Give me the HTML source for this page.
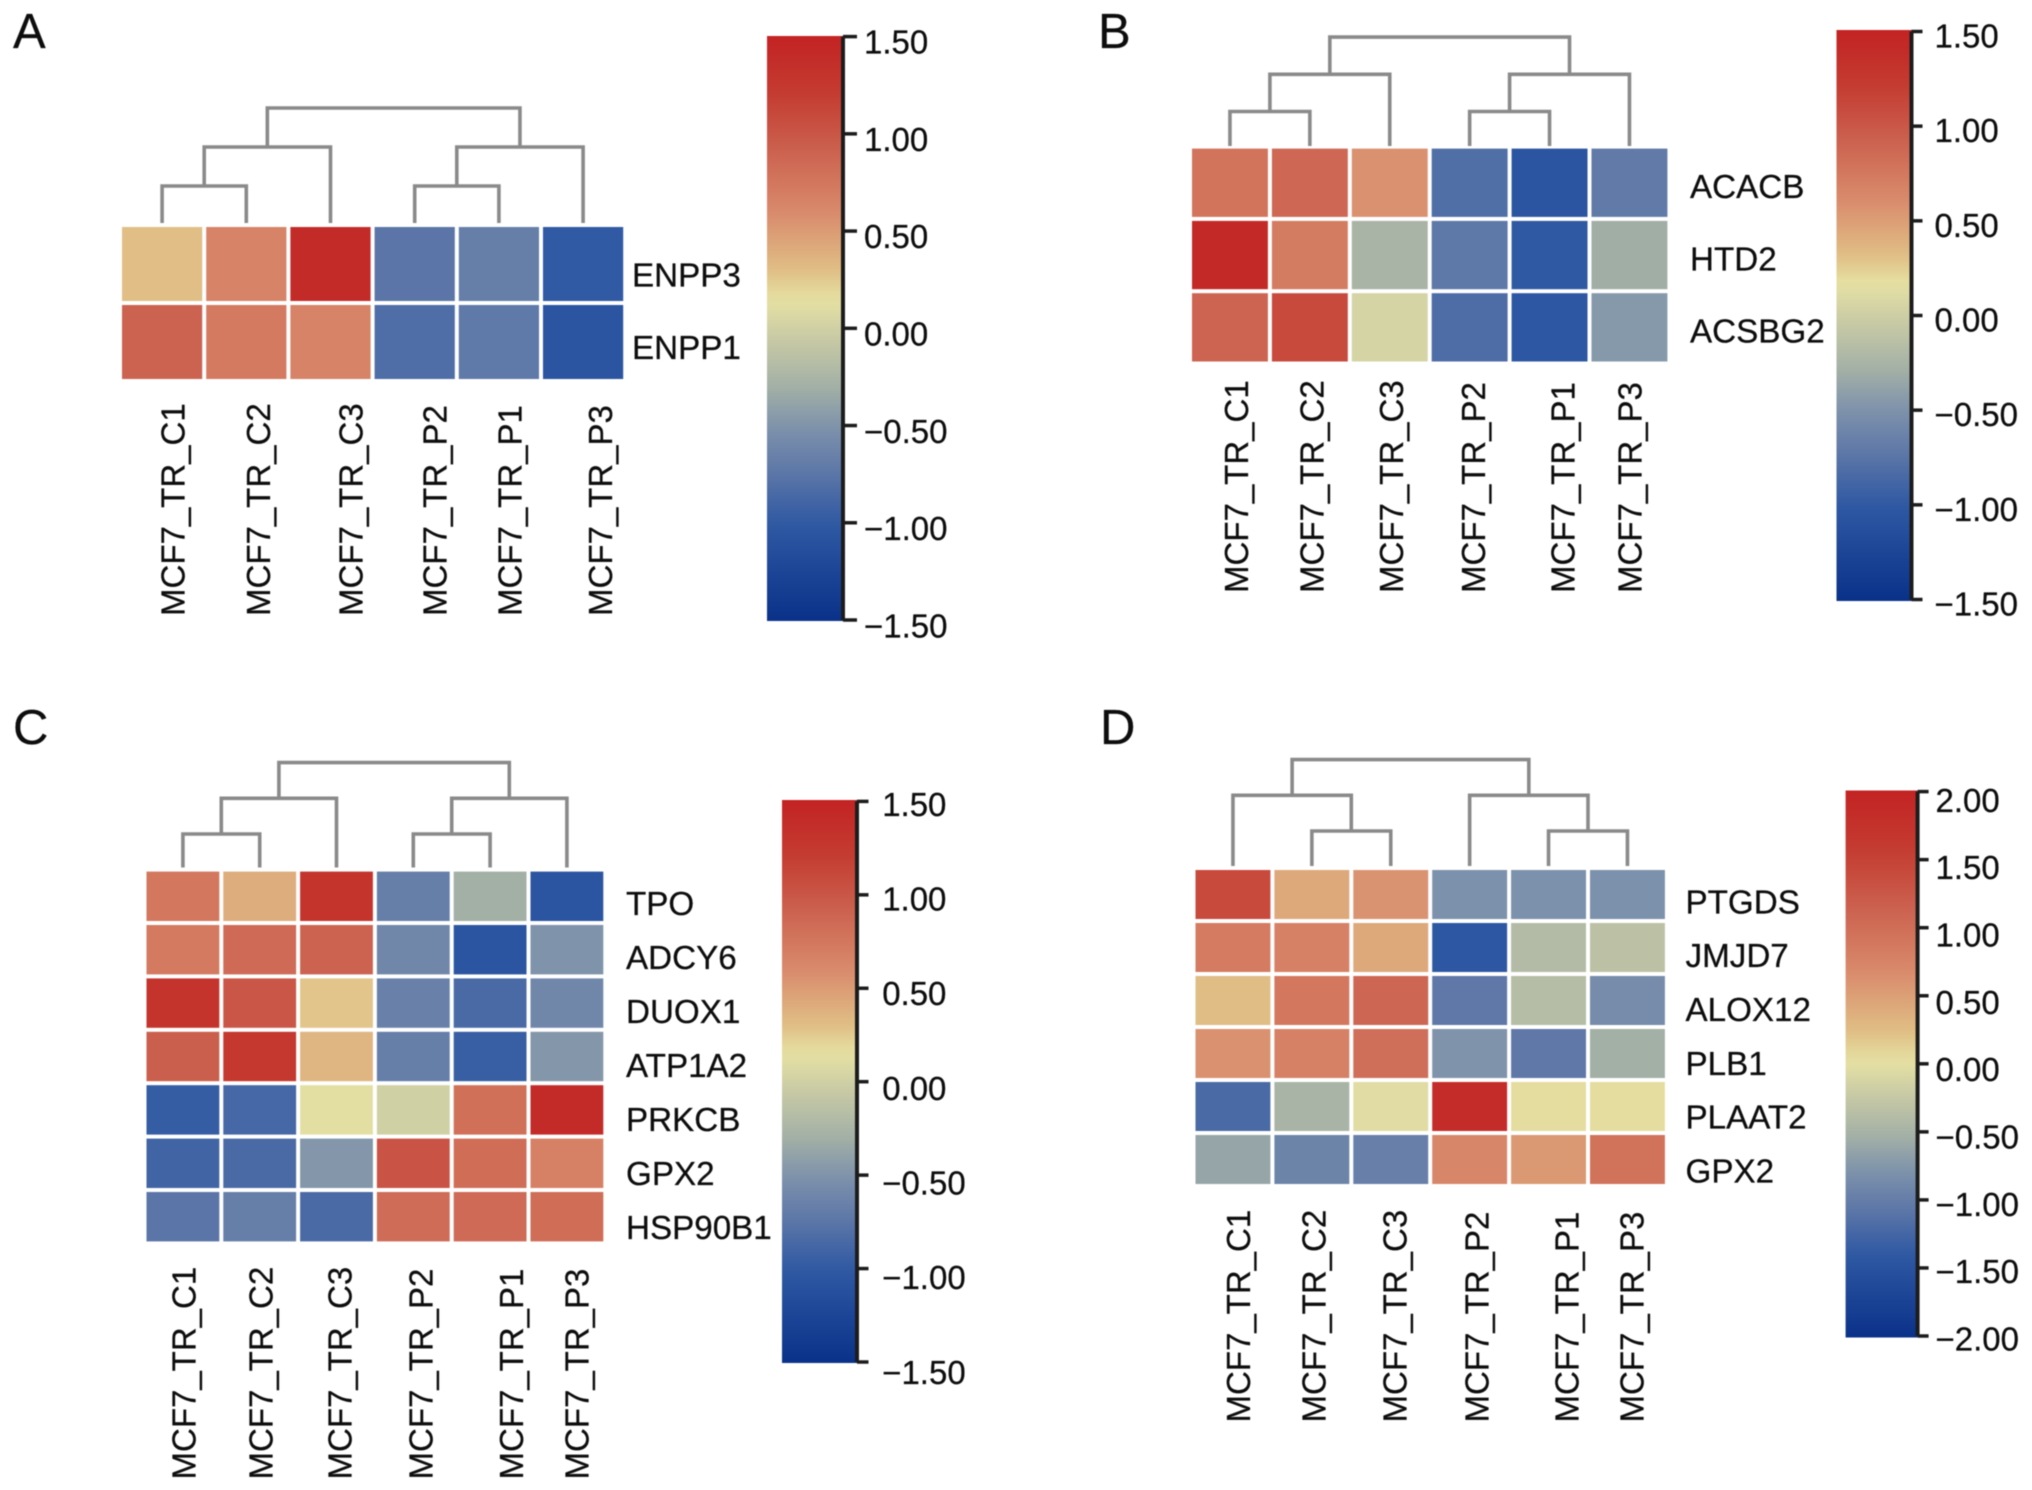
<!DOCTYPE html>
<html lang="en">
<head>
<meta charset="utf-8">
<title>Clustered gene expression heatmaps</title>
<style>
html,body{margin:0;padding:0;background:#fff;}
svg{display:block;filter:blur(0.6px);}
text{font-family:"Liberation Sans",Arial,sans-serif;fill:#0d0d0d;stroke:#0d0d0d;stroke-width:0.25px;}
</style>
</head>
<body>
<svg id="figure" xmlns="http://www.w3.org/2000/svg" width="2032" height="1490" viewBox="0 0 2032 1490">
<rect width="2032" height="1490" fill="#ffffff"/>
</svg>
<script>
// ---------- Data ----------
const samplesA = ["MCF7_TR_C1","MCF7_TR_C2","MCF7_TR_C3","MCF7_TR_P2","MCF7_TR_P1","MCF7_TR_P3"];
const genesA = ["ENPP3","ENPP1"];
const valuesA = [
  [0.30,0.65,1.40,-0.75,-0.67,-1.00],
  [0.90,0.72,0.65,-0.82,-0.72,-1.05]
];
const ticksA = [1.5,1,0.5,0,-0.5,-1,-1.5];
const mergesA = [[0,1,1],[6,2,2],[3,4,1],[8,5,2],[7,9,3]];

const samplesB = ["MCF7_TR_C1","MCF7_TR_C2","MCF7_TR_C3","MCF7_TR_P2","MCF7_TR_P1","MCF7_TR_P3"];
const genesB = ["ACACB","HTD2","ACSBG2"];
const valuesB = [
  [0.78,0.87,0.57,-0.80,-1.05,-0.70],
  [1.42,0.72,-0.25,-0.72,-1.00,-0.30],
  [0.90,1.10,0.05,-0.82,-1.02,-0.45]
];
const ticksB = [1.5,1,0.5,0,-0.5,-1,-1.5];
const mergesB = [[0,1,1],[6,2,2],[3,4,1],[8,5,2],[7,9,3]];

const samplesC = ["MCF7_TR_C1","MCF7_TR_C2","MCF7_TR_C3","MCF7_TR_P2","MCF7_TR_P1","MCF7_TR_P3"];
const genesC = ["TPO","ADCY6","DUOX1","ATP1A2","PRKCB","GPX2","HSP90B1"];
const valuesC = [
  [0.75,0.40,1.30,-0.67,-0.30,-1.05],
  [0.72,0.85,0.90,-0.60,-1.05,-0.50],
  [1.30,1.00,0.27,-0.65,-0.85,-0.60],
  [0.93,1.25,0.35,-0.67,-0.95,-0.47],
  [-0.97,-0.87,0.13,0.00,0.80,1.40],
  [-0.90,-0.85,-0.48,1.02,0.82,0.67],
  [-0.75,-0.67,-0.85,0.83,0.85,0.82]
];
const ticksC = [1.5,1,0.5,0,-0.5,-1,-1.5];
const mergesC = [[0,1,1],[6,2,2],[3,4,1],[8,5,2],[7,9,3]];

const samplesD = ["MCF7_TR_C1","MCF7_TR_C2","MCF7_TR_C3","MCF7_TR_P2","MCF7_TR_P1","MCF7_TR_P3"];
const genesD = ["PTGDS","JMJD7","ALOX12","PLB1","PLAAT2","GPX2"];
const valuesD = [
  [1.40,0.42,0.60,-0.80,-0.80,-0.80],
  [0.85,0.78,0.42,-1.42,-0.40,-0.33],
  [0.25,0.90,1.08,-1.05,-0.38,-0.85],
  [0.62,0.78,0.98,-0.78,-1.05,-0.53],
  [-1.20,-0.48,-0.03,1.85,0.05,0.05],
  [-0.62,-0.93,-0.97,0.72,0.55,0.95]
];
const ticksD = [2,1.5,1,0.5,0,-0.5,-1,-1.5,-2];
const mergesD = [[1,2,1],[0,6,2],[4,5,1],[3,8,2],[7,9,3]];

// ---------- Colormap ----------
const lowerStops = [[0,"#0a3189"],[0.30,"#2f59a3"],[0.455,"#5b75a8"],[0.606,"#7f93ab"],[0.727,"#a3b0a6"],[0.91,"#d0d0a5"],[1,"#e6e1a3"]];
const upperStops = [[0,"#e6e1a3"],[0.111,"#e0be85"],[0.333,"#d98a6c"],[0.556,"#cc6350"],[0.778,"#c43c32"],[1,"#c32323"]];

function hexToRgb(h){return [1,3,5].map(i=>parseInt(h.substr(i,2),16));}
function sampleStops(stops,t){
  t=Math.max(0,Math.min(1,t));
  for(let i=1;i<stops.length;i++){
    if(t<=stops[i][0]){
      const a=stops[i-1],b=stops[i],u=(t-a[0])/(b[0]-a[0]);
      const ca=hexToRgb(a[1]),cb=hexToRgb(b[1]);
      return "rgb("+ca.map((c,k)=>Math.round(c+(cb[k]-c)*u)).join(",")+")";
    }
  }
  return stops[stops.length-1][1];
}
function colorAt(f,mid){
  return f<mid?sampleStops(lowerStops,f/mid):sampleStops(upperStops,(f-mid)/(1-mid));
}

// ---------- Drawing ----------
const NS="http://www.w3.org/2000/svg";
const svg=document.getElementById("figure");
const ROW_FONT=33.2, COL_FONT=33, TICK_FONT=33;
function el(parent,tag,attrs){
  const n=document.createElementNS(NS,tag);
  for(const k in attrs)n.setAttribute(k,attrs[k]);
  parent.appendChild(n);
  return n;
}
function fmtTick(v){return (v<0?"\u2212":"")+Math.abs(v).toFixed(2);}

function drawPanel(p){
  const g=el(svg,"g",{});
  
  

  const letter=el(g,"text",{x:p.letterX,y:p.letterY,"font-size":49});
  
  
  letter.textContent=p.letter;

  // axis functions
  const cellW=p.colPitch-p.gap, cellH=p.rowPitch-p.gap;
  const colX=i=>p.left+i*p.colPitch;
  const colMid=i=>colX(i)+cellW/2;
  const rowY=i=>p.top+i*p.rowPitch;
  const levelY=h=>h===0?p.leafY:p.level1Y-(h-1)*p.levelStep;
  const scaleF=v=>(v+p.range)/(2*p.range);

  // heatmap cells
  const heat=el(g,"g",{});
  
  
  p.values.forEach((row,r)=>row.forEach((v,c)=>{
    const cell=el(heat,"rect",{x:colX(c),y:rowY(r),width:cellW,height:cellH,fill:colorAt(scaleF(v),p.mid)});
    
    
  }));

  // row labels
  p.genes.forEach((name,r)=>{
    const t=el(g,"text",{x:p.rowLabelX,y:rowY(r)+cellH/2+p.rowLabelShift+r*p.rowLabelDrift+ROW_FONT*0.358,"font-size":ROW_FONT});
    
    
    t.textContent=name;
  });

  // column labels
  p.samples.forEach((name,c)=>{
    const cx=colMid(c)+p.colLabelNudge[c]+COL_FONT*0.358;
    const t=el(g,"text",{x:cx,y:p.colLabelBase,"font-size":COL_FONT,transform:"rotate(-90 "+cx+" "+p.colLabelBase+")"});
    
    
    t.textContent=name;
  });

  // dendrogram
  const dendro=el(g,"g",{fill:"none",stroke:"#8a8a8a","stroke-width":3.6});
  
  
  const nodes=p.samples.map((_,i)=>({x:colMid(i),h:0}));
  p.merges.forEach(m=>{
    const a=nodes[m[0]],b=nodes[m[1]],y=levelY(m[2]);
    const link=el(dendro,"path",{d:"M"+a.x+" "+levelY(a.h)+"V"+y+"H"+b.x+"V"+levelY(b.h)});
    
    
    nodes.push({x:(a.x+b.x)/2,h:m[2]});
  });

  // colorbar
  const gradId="grad"+p.letter;
  const defs=el(g,"defs",{});
  const grad=el(defs,"linearGradient",{id:gradId,x1:0,y1:1,x2:0,y2:0});
  for(let i=0;i<=50;i++){
    el(grad,"stop",{offset:i/50,"stop-color":colorAt(i/50,p.mid)});
  }
  const bar=el(g,"rect",{x:p.barX,y:p.barTop,width:p.barW,height:p.barBottom-p.barTop,fill:"url(#"+gradId+")"});
  
  

  const tickY=v=>p.tickTop+(p.range-v)/(2*p.range)*(p.tickBottom-p.tickTop);
  const labelY=v=>p.labelTop+(p.range-v)/(2*p.range)*(p.labelBottom-p.labelTop);
  const axisX=p.barX+p.barW;
  const axis=el(g,"line",{x1:axisX,x2:axisX,y1:tickY(p.range),y2:tickY(-p.range),stroke:"#1c1c1c","stroke-width":4});
  
  
  p.ticks.forEach(v=>{
    const tk=el(g,"line",{x1:axisX,x2:axisX+p.tickLen,y1:tickY(v),y2:tickY(v),stroke:"#1c1c1c","stroke-width":3.5});
    
    
    const t=el(g,"text",{x:p.tickLabelX,y:labelY(v)+TICK_FONT*0.358,"font-size":TICK_FONT});
    
    
    t.textContent=fmtTick(v);
  });
}

drawPanel({letter:"A",letterX:13,letterY:48,samples:samplesA,genes:genesA,values:valuesA,ticks:ticksA,merges:mergesA,
  range:1.5,mid:0.55,left:122,top:227,colPitch:84.2,rowPitch:78,gap:4,
  rowLabelX:632,rowLabelShift:10.7,rowLabelDrift:-5.8,colLabelBase:616,colLabelNudge:[10.5,12,20,20,11,17],
  leafY:223,level1Y:186,levelStep:39,
  barX:767,barW:76,barTop:36,barBottom:621,tickTop:36.6,tickBottom:620,tickLen:14,tickLabelX:864,labelTop:41.7,labelBottom:625.7});

drawPanel({letter:"B",letterX:1098,letterY:48,samples:samplesB,genes:genesB,values:valuesB,ticks:ticksB,merges:mergesB,
  range:1.5,mid:0.556,left:1192,top:148.6,colPitch:79.9,rowPitch:72.3,gap:4,
  rowLabelX:1690,rowLabelShift:3.5,rowLabelDrift:0,colLabelBase:593,colLabelNudge:[6,2,1.5,3.5,13,0],
  leafY:146,level1Y:111.5,levelStep:37.2,
  barX:1836.5,barW:75,barTop:30,barBottom:601,tickTop:31.5,tickBottom:599.5,tickLen:11,tickLabelX:1934.5,labelTop:35.7,labelBottom:603.7});

drawPanel({letter:"C",letterX:13,letterY:744,samples:samplesC,genes:genesC,values:valuesC,ticks:ticksC,merges:mergesC,
  range:1.5,mid:0.55,left:146.5,top:871.6,colPitch:76.8,rowPitch:53.4,gap:4,
  rowLabelX:626,rowLabelShift:7,rowLabelDrift:0.6,colLabelBase:1479.5,colLabelNudge:[0.6,1,3,7.5,21,10],
  leafY:867.5,level1Y:834,levelStep:35.7,
  barX:782,barW:75,barTop:800,barBottom:1363,tickTop:801.4,tickBottom:1362,tickLen:11.5,tickLabelX:882.2,labelTop:804,labelBottom:1372});

drawPanel({letter:"D",letterX:1100,letterY:744,samples:samplesD,genes:genesD,values:valuesD,ticks:ticksD,merges:mergesD,
  range:2,mid:0.505,left:1195.5,top:870,colPitch:78.9,rowPitch:53,gap:4,
  rowLabelX:1685.5,rowLabelShift:7,rowLabelDrift:0.8,colLabelBase:1422.5,colLabelNudge:[5,2,4,7,18,4],
  leafY:866,level1Y:831,levelStep:35.7,
  barX:1845.6,barW:72,barTop:790.5,barBottom:1337.5,tickTop:791.6,tickBottom:1336,tickLen:11,tickLabelX:1935.5,labelTop:800,labelBottom:1338.6});
</script>
</body>
</html>
